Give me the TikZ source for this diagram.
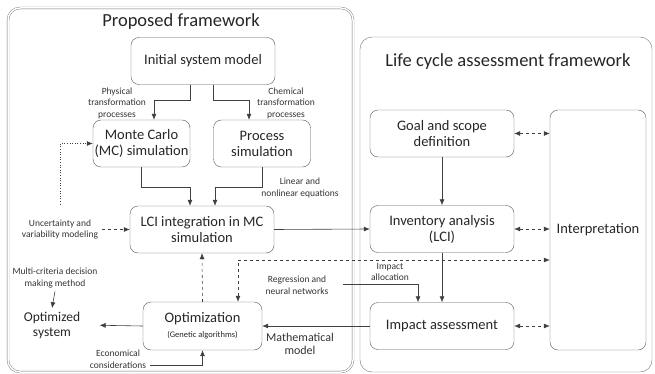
\documentclass[tikz,border=0pt]{standalone}
\usepackage{fontspec}
\setmainfont{Carlito}
\usetikzlibrary{positioning,arrows.meta}

\begin{document}
\begin{tikzpicture}[x=1pt,y=-1pt,>={Latex[length=6pt,width=5pt]},
	box/.style={draw=black!65, rounded corners=8pt, align=center, text=black!85, minimum height=47pt, font=\fontsize{14.5}{16}\selectfont},
	note/.style={align=center, text=black!80, font=\fontsize{9.5}{11.5}\selectfont},
	link/.style={draw=black!75, semithick}]
	\pgfmathsetmacro{\WideBox}{144}
	\pgfmathsetmacro{\SmallBox}{97}
	\pgfmathsetmacro{\DropLength}{16}
	\useasboundingbox (0,0) rectangle (655,374);
	
	% frames
	\draw[draw=black!55, double, double distance=1.5pt, rounded corners=12pt] (8,8) rectangle (353,372);
	\draw[draw=black!55, rounded corners=12pt] (360,37) rectangle (652,372);
	\node[text=black!85, font=\fontsize{18.5}{20}\selectfont] (PropTitle) at (181,22) {Proposed framework};
	\node[text=black!85, font=\fontsize{18.5}{20}\selectfont] (LcaTitle) at (508,62) {Life cycle assessment framework};
	
	% proposed framework
	\node[box, minimum width=\WideBox] (Initial) at (203,61) {Initial system model};
	\node[box, minimum width=\SmallBox, inner xsep=1pt] (MonteCarlo) at (141.5,143.5) {Monte Carlo\\(MC) simulation};
	\node[box, minimum width=\SmallBox] (Process) at (262,143.5) {Process\\simulation};
	\node[box, minimum width=\WideBox] (LciMc) at (202,229.5) {LCI integration in MC\\simulation};
	\node[box, minimum width=119, minimum height=48] (Optim) at (202.5,326) {Optimization\\[-1pt]{\fontsize{8.5}{9}\selectfont (Genetic algorithms)}};
	\node[text=black!85, align=center, font=\fontsize{13.5}{15}\selectfont] (OptSystem) at (52,325) {Optimized\\system};
	
	\node[note] (Physical) at (117,103) {Physical\\transformation\\processes};
	\node[note] (Chemical) at (286,103) {Chemical\\transformation\\processes};
	\node[note] (Equations) at (300,188) {Linear and\\nonlinear equations};
	\node[note] (Uncertainty) at (60,229.5) {Uncertainty and\\variability modeling};
	\node[note] (Criteria) at (55,278) {Multi-criteria decision\\making method};
	\node[note] (Economic) at (118,359) {Economical\\considerations};
	\node[note] (Regression) at (297,285) {Regression and\\neural networks};
	\node[note, font=\fontsize{12}{13.5}\selectfont] (MathModel) at (300,344) {Mathematical\\model};
	\coordinate (RegressionEnd) at (343,284);
	
	% life cycle assessment
	\node[box, minimum width=\WideBox] (Goal) at (442,133.5) {Goal and scope\\definition};
	\node[box, minimum width=\WideBox] (Inventory) at (442,229) {Inventory analysis\\(LCI)};
	\node[box, minimum width=\WideBox] (Impact) at (442,326) {Impact assessment};
	\node[box, minimum width=96, minimum height=240] (Interp) at (598,230) {Interpretation};
	\node[note] (Allocation) at (390,272) {Impact\\allocation};
	
	\draw[link,->] ([xshift=-13pt]Initial.south) -- ++(0,\DropLength) -| ([xshift=12.5pt]MonteCarlo.north);
	\draw[link,->] ([xshift=10pt]Initial.south) -- ++(0,\DropLength) -| ([xshift=-13pt]Process.north);
	\draw[link,->] (MonteCarlo.south) -- ++(0,20) -| ([xshift=-12pt]LciMc.north);
	\draw[link,->] (Process.south) -- ++(0,20) -| ([xshift=13pt]LciMc.north);
	\draw[link,->] (LciMc.east) -- (Inventory.west);
	\draw[link,->,dashed] (Uncertainty.east) -- (LciMc.west);
	\draw[link,->,dotted] ([yshift=12pt]Uncertainty.north) |- (MonteCarlo.west);
	\draw[link,->,dashed] (Optim.north) -- (LciMc.south);
	\draw[link,<->,dashed] ([xshift=35.5pt]Optim.north) |- ([yshift=-30pt]Interp.west);
	\draw[link,->] (Criteria.south) -- (OptSystem.north);
	\draw[link,->,shorten >=16pt] (Optim.west) -- (OptSystem.east);
	\draw[link,->] ([yshift=-6pt]Economic.east) -| (Optim.south);
	\draw[link,->] (Impact.west) -- (Optim.east);
	\draw[link,->] (RegressionEnd) -| ([xshift=-24pt]Impact.north);
	
	\draw[link,->] (Goal.south) -- (Inventory.north);
	\draw[link,->] (Inventory.south) -- (Impact.north);
	\draw[link,<->,dashed] (Goal.east) -- (Goal.east -| Interp.west);
	\draw[link,<->,dashed] (Inventory.east) -- (Inventory.east -| Interp.west);
	\draw[link,<->,dashed] (Impact.east) -- (Impact.east -| Interp.west);
\end{tikzpicture}
\end{document}
